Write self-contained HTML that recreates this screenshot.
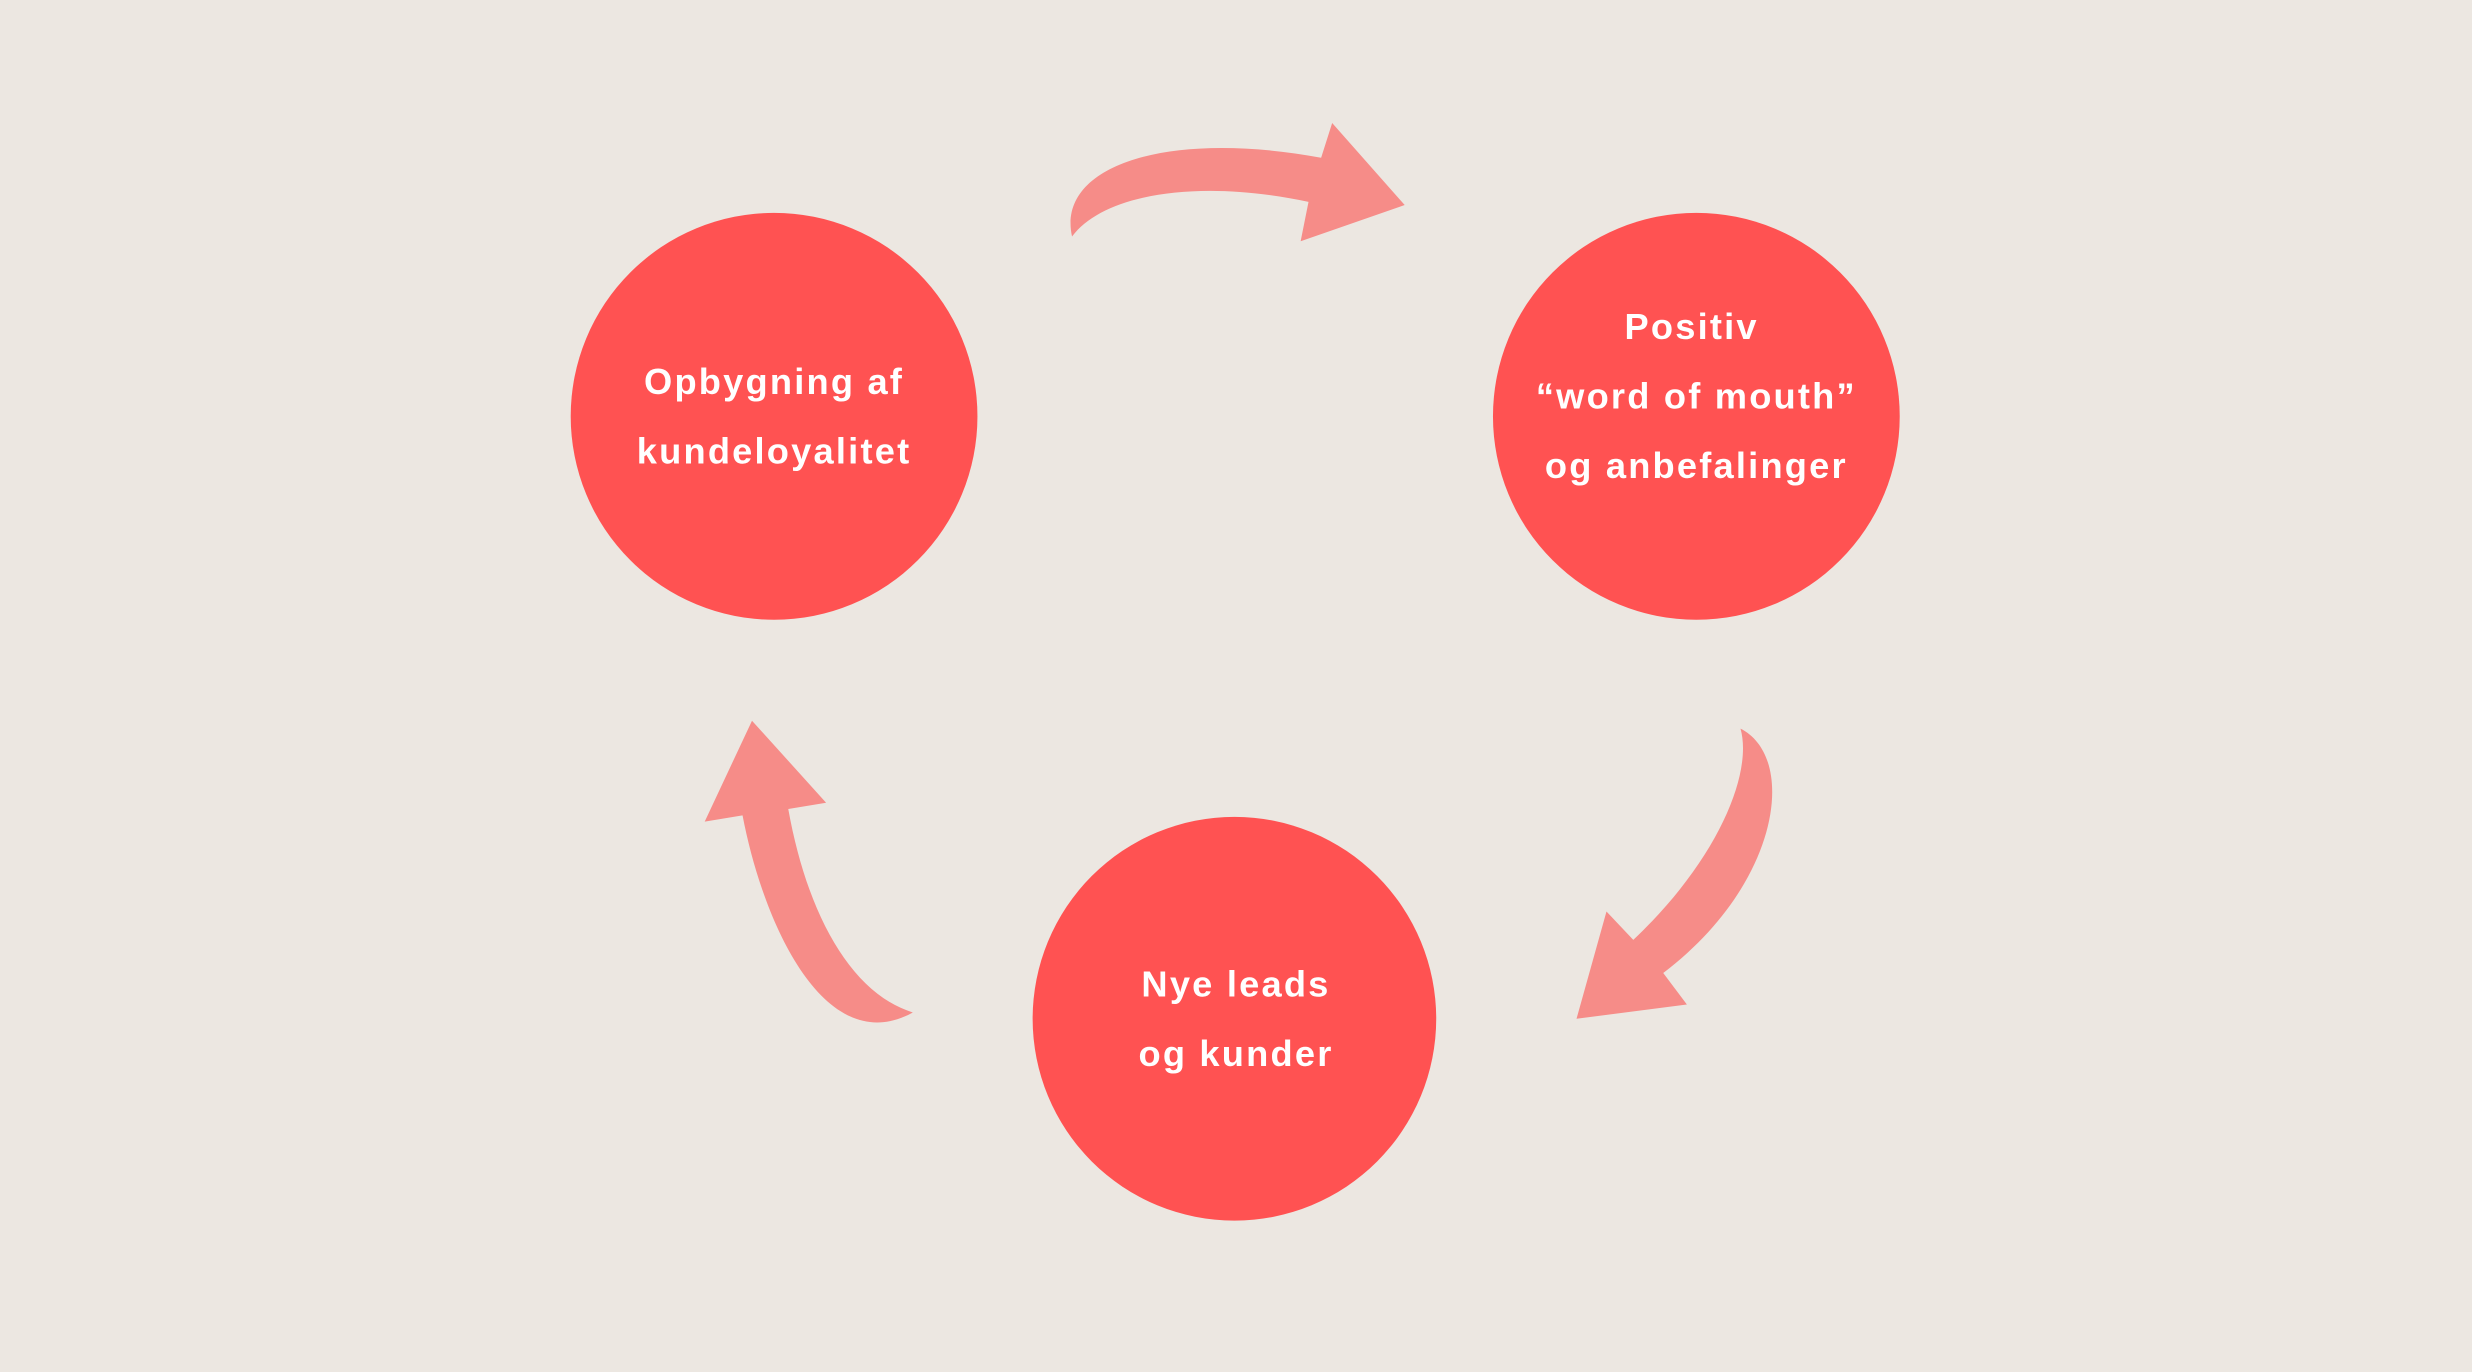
<!DOCTYPE html>
<html><head><meta charset="utf-8"><style>
html,body{margin:0;padding:0;background:#ece7e1;}
svg{display:block}
text{font-family:"Liberation Sans",sans-serif;font-weight:bold;fill:#fff;font-size:23px;letter-spacing:1.4px;text-anchor:middle}
</style></head><body>
<svg width="2472" height="1372" viewBox="0 0 1568 870" preserveAspectRatio="none">
<rect width="1568" height="870" fill="#ece7e1"/>
<g fill="#f68c88">
<path d="M680,150 C670,105 740,82 838,100 L845,78 L891,130 L825,153 L830,128 C760,113 700,123 680,150 Z"/>
<path d="M1104,462 C1140,480 1130,560 1055,617 L1070,637 L1000,646 L1019,578 L1036,596 C1090,545 1112,490 1104,462 Z"/>
<path d="M579,642 C540,630 512,580 500,513 L524,509 L477,457 L447,521 L471,517 C485,590 525,672 579,642 Z"/>
</g>
<g fill="#ff5252">
<circle cx="491" cy="264" r="129"/>
<circle cx="1076" cy="264" r="129"/>
<circle cx="783" cy="646" r="128"/>
</g>
<text x="491" y="250">Opbygning af</text>
<text x="491" y="294">kundeloyalitet</text>
<text x="1073" y="215">Positiv</text>
<text x="1076" y="259">“word of mouth”</text>
<text x="1076" y="303">og anbefalinger</text>
<text x="784" y="632">Nye leads</text>
<text x="784" y="676">og kunder</text>
</svg>
</body></html>
